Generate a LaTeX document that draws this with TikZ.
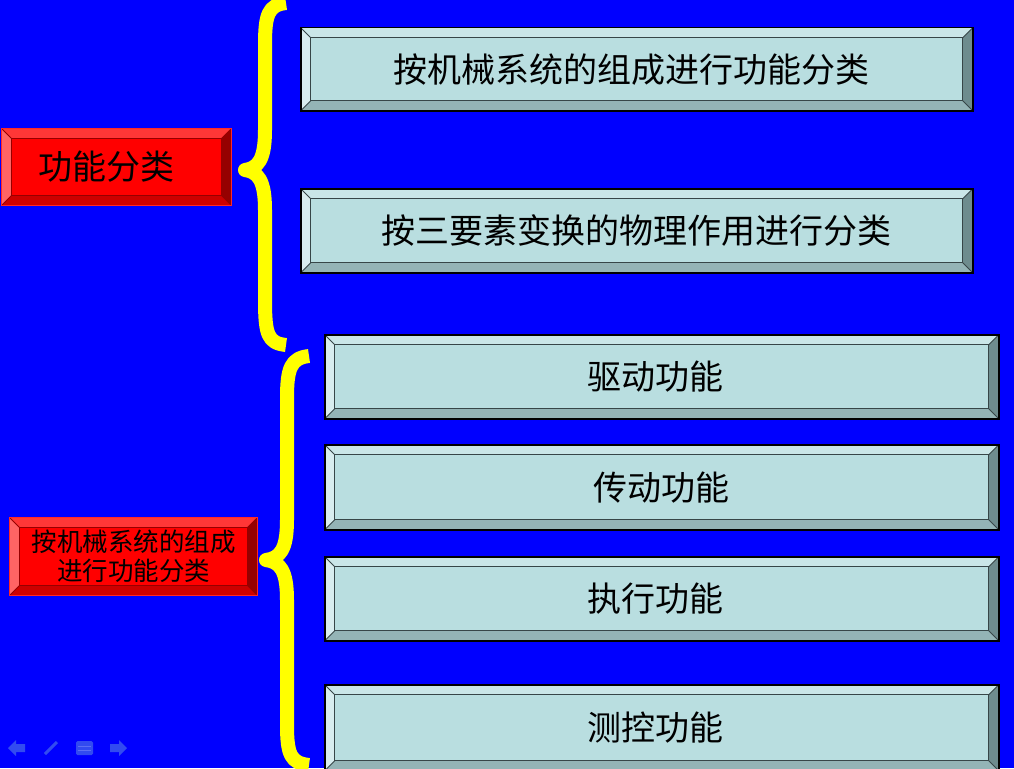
\documentclass[tikz,border=0pt]{standalone}
\usepackage{fontspec}
\newfontfamily\cjk{Noto Sans CJK SC}
\usetikzlibrary{calc}
\definecolor{bgblue}{RGB}{0,0,255}
\definecolor{braceyellow}{RGB}{255,255,0}
\definecolor{tface}{RGB}{185,222,224}
\definecolor{ttop}{RGB}{202,230,232}
\definecolor{tleft}{RGB}{216,237,239}
\definecolor{tbottom}{RGB}{148,180,182}
\definecolor{tright}{RGB}{110,140,142}
\definecolor{tedge}{RGB}{55,70,72}
\definecolor{rface}{RGB}{255,0,0}
\definecolor{rtop}{RGB}{255,55,55}
\definecolor{rleft}{RGB}{255,100,100}
\definecolor{rbottom}{RGB}{205,0,0}
\definecolor{rright}{RGB}{150,0,0}
\definecolor{redge}{RGB}{255,40,40}
\definecolor{navc}{RGB}{50,75,240}
\definecolor{navl}{RGB}{90,110,245}
\newcommand\bevpaint[5]{%
  \coordinate (NW) at (path picture bounding box.north west);
  \coordinate (NE) at (path picture bounding box.north east);
  \coordinate (SW) at (path picture bounding box.south west);
  \coordinate (SE) at (path picture bounding box.south east);
  \coordinate (iNW) at ([shift={(10pt,-10pt)}]NW);
  \coordinate (iNE) at ([shift={(-10pt,-10pt)}]NE);
  \coordinate (iSW) at ([shift={(10pt,10pt)}]SW);
  \coordinate (iSE) at ([shift={(-10pt,10pt)}]SE);
  \fill[#1] (NW) -- (NE) -- (iNE) -- (iNW) -- cycle;
  \fill[#2] (NW) -- (iNW) -- (iSW) -- (SW) -- cycle;
  \fill[#3] (SW) -- (iSW) -- (iSE) -- (SE) -- cycle;
  \fill[#4] (NE) -- (SE) -- (iSE) -- (iNE) -- cycle;
  \draw[#5, line width=1pt] (iNW) rectangle (iSE);
  \draw[#5, line width=0.8pt] (NW) -- (iNW) (NE) -- (iNE) (SW) -- (iSW) (SE) -- (iSE);
}
\tikzset{
  tealbox/.style={draw=black, line width=1.5pt, fill=tface, inner sep=0pt, anchor=north west,
    font=\cjk\fontsize{34}{38}\selectfont, text=black,
    path picture={\bevpaint{ttop}{tleft}{tbottom}{tright}{tedge}}},
  redbox/.style={draw=redge, line width=1pt, fill=rface, inner sep=0pt, anchor=north west,
    text=black, align=center,
    path picture={\bevpaint{rtop}{rleft}{rbottom}{rright}{rright}}},
  brace/.style={draw=braceyellow, line width=14pt, line join=round, line cap=butt},
  nav/.style={fill=navc, draw=none},
}
\begin{document}
\begin{tikzpicture}[x=1pt, y=-1pt]
\useasboundingbox (0,0) rectangle (1014,768);
\fill[bgblue] (0,0) rectangle (1014,768);

% braces
\draw[brace] (286,3) .. controls (268,5) and (265,15) .. (265,45) -- (265,130)
  .. controls (265,160) and (258,168) .. (245,170)
  .. controls (258,172) and (265,180) .. (265,210) -- (265,300)
  .. controls (265,335) and (268,343) .. (286,345);
\draw[brace] (309,356) .. controls (291,358) and (287,368) .. (287,398) -- (287,520)
  .. controls (287,550) and (280,558) .. (266,560)
  .. controls (280,562) and (287,570) .. (287,600) -- (287,725)
  .. controls (287,755) and (291,763) .. (309,765);

% left red boxes
\node[redbox, minimum width=230pt, minimum height=77pt, font=\cjk\fontsize{34}{38}\selectfont] (r1) at (1,128) {功能分类\hspace*{21pt}};
\node[redbox, minimum width=248pt, minimum height=78pt, font=\cjk\fontsize{25.5}{29}\selectfont] (r2) at (9,517) {按机械系统的组成\\进行功能分类};

% top boxes
\node[tealbox, minimum width=672pt, minimum height=83pt] (t1) at (300,27) {按机械系统的组成进行功能分类\hspace*{10pt}};
\node[tealbox, minimum width=672pt, minimum height=84pt] (t2) at (300,188) {按三要素变换的物理作用进行分类};

% lower boxes
\node[tealbox, minimum width=674pt, minimum height=84pt] (f1) at (324,334) {驱动功能\hspace*{12pt}};
\node[tealbox, minimum width=674pt, minimum height=85pt] (f2) at (324,444) {传动功能};
\node[tealbox, minimum width=674pt, minimum height=84pt] (f3) at (324,556) {执行功能\hspace*{12pt}};
\node[tealbox, minimum width=674pt, minimum height=86pt] (f4) at (324,684) {测控功能\hspace*{12pt}};

% navigation icons
\fill[nav] (8,748) -- (16,740) -- (16,744) -- (25,744) -- (25,752) -- (16,752) -- (16,756) -- cycle;
\draw[navc, line width=3pt] (45,754) -- (57,742);
\fill[nav, rounded corners=1.5pt] (76,741) rectangle (93,755);
\draw[navl, line width=0.8pt] (78,746) -- (91,746) (78,750) -- (91,750);
\fill[nav] (127,748) -- (119,740) -- (119,744) -- (110,744) -- (110,752) -- (119,752) -- (119,756) -- cycle;
\end{tikzpicture}
\end{document}
